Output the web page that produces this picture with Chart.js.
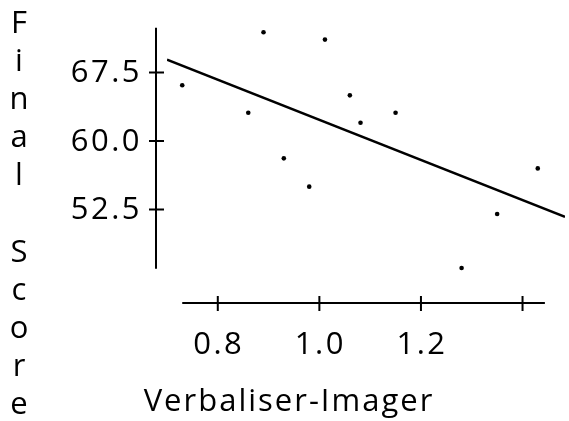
<!DOCTYPE html>
<html>
<head>
<meta charset="utf-8">
<script src="https://cdn.jsdelivr.net/npm/chart.js@4.4.1/dist/chart.umd.min.js"></script>
<style>
  html, body { margin: 0; padding: 0; background: #fff; }
  canvas { display: block; }
</style>
</head>
<body>
<canvas id="scoreChart" width="569" height="421"></canvas>
<script>
// values
const verbaliserImager = [0.730, 0.890, 0.860, 0.930, 0.980, 1.011, 1.060, 1.081, 1.150, 1.280, 1.350, 1.430];
const finalScore = [66.1, 71.9, 63.1, 58.1, 55.0, 71.1, 65.0, 62.0, 63.1, 46.1, 52.0, 57.0];

// fitted line, two ends
const fitX = [0.70, 1.4836];
const fitY = [68.9, 51.7];

const xTicks = [0.8, 1.0, 1.2, 1.4];
const xTickLabels = ["0.8", "1.0", "1.2", ""];
const yTicks = [52.5, 60.0, 67.5];
const yTickLabels = ["52.5", "60.0", "67.5"];

const xFrame = [0.73, 1.444]; // where the drawn axis lines start/stop
const yFrame = [46.0, 72.4];

const xTitle = "Verbaliser-Imager";
const yTitle = "Final Score";

const points = verbaliserImager.map(function (v, i) {
  return { x: v, y: finalScore[i] };
});
const fitLine = fitX.map(function (v, i) {
  return { x: v, y: fitY[i] };
});

// axes drawn apart from the plot, only over the data range
const rangeFrame = {
  id: "rangeFrame",
  afterDraw(chart) {
    const ctx = chart.ctx;
    const x = chart.scales.x;
    const y = chart.scales.y;
    const axisX = chart.chartArea.left - 11;
    const axisY = 303;

    ctx.save();
    ctx.strokeStyle = "#000";
    ctx.fillStyle = "#000";
    ctx.lineWidth = 2;

    ctx.beginPath();
    ctx.moveTo(axisX, y.getPixelForValue(yFrame[0]));
    ctx.lineTo(axisX, y.getPixelForValue(yFrame[1]));
    yTicks.forEach(function (t) {
      const py = y.getPixelForValue(t);
      ctx.moveTo(axisX - 7, py);
      ctx.lineTo(axisX + 8, py);
    });
    ctx.moveTo(x.getPixelForValue(xFrame[0]), axisY);
    ctx.lineTo(x.getPixelForValue(xFrame[1]), axisY);
    xTicks.forEach(function (t) {
      const px = x.getPixelForValue(t);
      ctx.moveTo(px, axisY - 7);
      ctx.lineTo(px, axisY + 8);
    });
    ctx.stroke();

    ctx.font = '31px "Open Sans"';
    ctx.letterSpacing = "2.5px";

    ctx.textAlign = "right";
    ctx.textBaseline = "middle";
    yTicks.forEach(function (t, i) {
      ctx.fillText(yTickLabels[i], axisX - 14, y.getPixelForValue(t) + 1);
    });

    ctx.textAlign = "center";
    xTicks.forEach(function (t, i) {
      ctx.fillText(xTickLabels[i], x.getPixelForValue(t) + 1, 345);
    });

    ctx.textBaseline = "alphabetic";
    ctx.letterSpacing = "2px";
    ctx.fillText(xTitle, 289, 411);

    ctx.letterSpacing = "0px";
    yTitle.split("").forEach(function (ch, i) {
      ctx.fillText(ch, 19, 33 + i * 38.1);
    });
    ctx.restore();
  }
};

const scoreChart = new Chart(document.getElementById("scoreChart"), {
  type: "scatter",
  data: {
    datasets: [
      {
        label: "Scores",
        data: points,
        backgroundColor: "#000",
        borderWidth: 0,
        pointRadius: 2.3
      },
      {
        type: "line",
        label: "Fit",
        data: fitLine,
        borderColor: "#000",
        borderWidth: 2.5,
        pointRadius: 0,
        fill: false
      }
    ]
  },
  options: {
    responsive: false,
    animation: false,
    devicePixelRatio: 1,
    layout: { padding: { left: 167, right: 0, top: 1, bottom: 143 } },
    plugins: {
      legend: { display: false },
      tooltip: { enabled: false }
    },
    scales: {
      x: { type: "linear", min: 0.70, max: 1.4836, display: false },
      y: { type: "linear", min: 45, max: 75, display: false }
    }
  },
  plugins: [rangeFrame]
});
</script>
</body>
</html>
